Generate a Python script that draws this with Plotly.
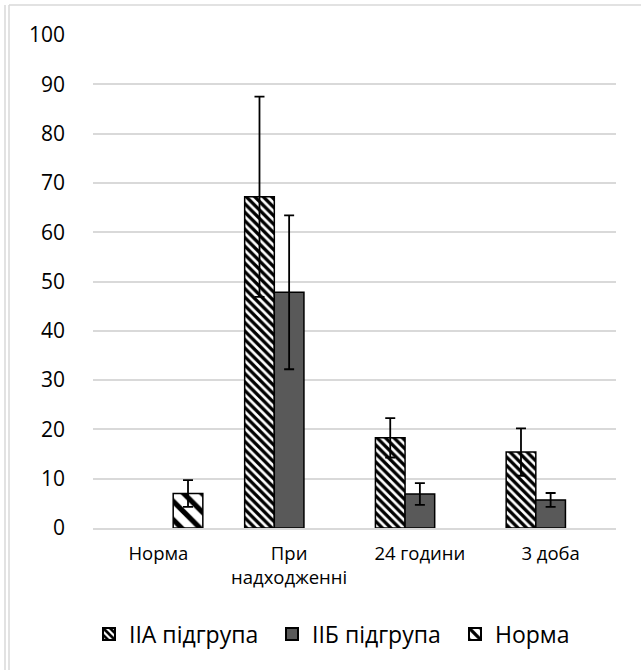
import plotly.graph_objects as go

categories = ["Норма", "При<br>надходженні", "24 години", "3 доба"]
iia_values = [None, 67.2, 18.3, 15.4]
iia_errors = [None, 20.3, 4.0, 4.8]
iib_values = [None, 47.8, 6.9, 5.7]
iib_errors = [None, 15.6, 2.2, 1.4]
norma_values = [7.0, None, None, None]
norma_errors = [2.7, None, None, None]
y_ticks = [0, 10, 20, 30, 40, 50, 60, 70, 80, 90, 100]

W, H = 641, 670
ML, MR, MT, MB = 93, 25, 35, 142
PW, PH = W - ML - MR, H - MT - MB

FONT = "Open Sans"
err_style = dict(type="data", color="black", thickness=1.8, width=5, visible=True)

fig = go.Figure()
fig.add_trace(go.Bar(
    name="IIA підгрупа", x=categories, y=iia_values,
    error_y=dict(array=iia_errors, **err_style),
    marker=dict(color="white", line=dict(color="black", width=1.5),
                pattern=dict(shape="\\", fgcolor="black", bgcolor="white",
                             size=6, solidity=0.55, fillmode="replace")),
))
fig.add_trace(go.Bar(
    name="IIБ підгрупа", x=categories, y=iib_values,
    error_y=dict(array=iib_errors, **err_style),
    marker=dict(color="#595959", line=dict(color="black", width=1.5)),
))
fig.add_trace(go.Bar(
    name="Норма", x=categories, y=norma_values,
    error_y=dict(array=norma_errors, **err_style),
    marker=dict(color="white", line=dict(color="black", width=1.5),
                pattern=dict(shape="\\", fgcolor="black", bgcolor="white",
                             size=13, solidity=0.4, fillmode="replace")),
))

def px_x(p):
    return (p - ML) / PW

def px_y(p):
    return (H - MB - p) / PH

shapes = [
    dict(type="line", xref="paper", yref="paper", x0=px_x(5), x1=px_x(5),
         y0=px_y(5), y1=px_y(H), line=dict(color="#d9d9d9", width=1.5)),
    dict(type="line", xref="paper", yref="paper", x0=px_x(9), x1=px_x(9),
         y0=px_y(5), y1=px_y(H), line=dict(color="#d9d9d9", width=1.5)),
    dict(type="line", xref="paper", yref="paper", x0=px_x(9), x1=px_x(W),
         y0=px_y(5), y1=px_y(5), line=dict(color="#d9d9d9", width=1.5)),
]

fig.update_layout(
    width=W, height=H,
    margin=dict(l=ML, r=MR, t=MT, b=MB, autoexpand=False),
    paper_bgcolor="white", plot_bgcolor="white",
    barmode="group", bargap=0.32, bargroupgap=0,
    font=dict(family=FONT, color="black"),
    showlegend=True,
    legend=dict(orientation="h", x=px_x(89), xanchor="left", y=px_y(634), yanchor="middle",
                font=dict(size=23, family=FONT, color="black"),
                entrywidth=138, entrywidthmode="pixels",
                traceorder="normal", itemsizing="constant"),
    shapes=shapes,
)
fig.update_xaxes(
    showgrid=False, showline=True, linecolor="#d9d9d9", linewidth=1.5,
    tickfont=dict(size=18.5, family=FONT, color="black"),
    ticks="", ticklabelstandoff=8,
)
fig.update_yaxes(
    range=[0, 100], tickvals=y_ticks, showgrid=True, gridcolor="#d9d9d9", gridwidth=1.5,
    zeroline=False, showline=False,
    tickfont=dict(size=21, family=FONT, color="black"),
    ticks="", ticklabelstandoff=27,
)

fig.write_html("out.html", config={"displayModeBar": False},
               post_script="document.body.style.margin='0';document.body.style.overflow='hidden';")
